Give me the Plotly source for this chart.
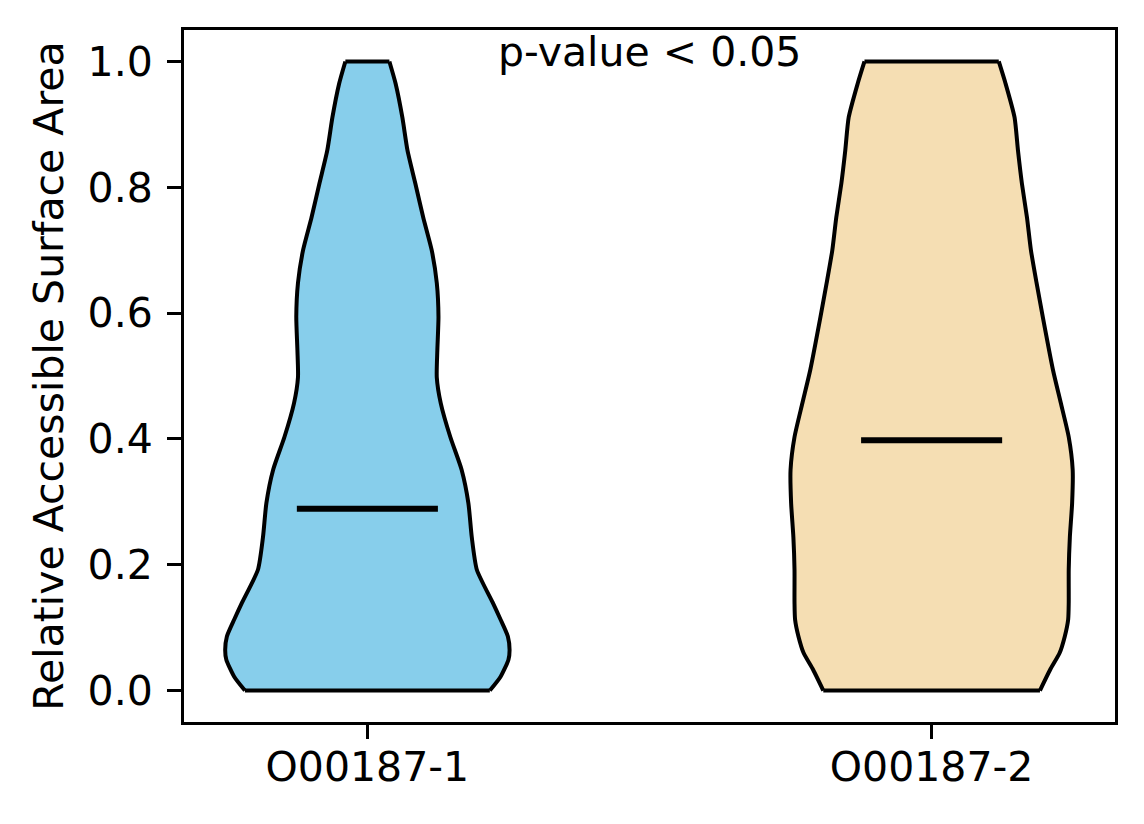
import plotly.graph_objects as go

# Violin profiles (value level -> half-width in x units)
groups = ["O00187-1", "O00187-2"]
colors = ["#87CEEB", "#F5DEB3"]

blue_levels = [0.0, 0.022, 0.049, 0.065, 0.086, 0.113, 0.140, 0.192, 0.244, 0.298, 0.351,
               0.403, 0.457, 0.498, 0.541, 0.594, 0.648, 0.700, 0.752, 0.806, 0.859,
               0.911, 0.965, 1.0]
blue_halfwidth = [0.217, 0.236, 0.250, 0.252, 0.249, 0.236, 0.222, 0.194, 0.185, 0.179, 0.167,
                  0.147, 0.130, 0.123, 0.124, 0.126, 0.123, 0.114, 0.099, 0.085, 0.071,
                  0.062, 0.050, 0.039]

orange_levels = [0.0, 0.033, 0.060, 0.086, 0.113, 0.140, 0.192, 0.244, 0.298, 0.351, 0.403,
                 0.457, 0.510, 0.594, 0.648, 0.700, 0.752, 0.806, 0.859, 0.911, 0.965, 1.0]
orange_halfwidth = [0.192, 0.210, 0.227, 0.236, 0.242, 0.243, 0.243, 0.245, 0.249, 0.250, 0.243,
                    0.229, 0.215, 0.197, 0.186, 0.176, 0.169, 0.160, 0.153, 0.147, 0.131, 0.119]

medians = [0.289, 0.398]
annotation_text = "p-value < 0.05"

profiles = [(blue_levels, blue_halfwidth), (orange_levels, orange_halfwidth)]
positions = list(range(1, len(groups) + 1))

FONT = "DejaVu Sans"
FS = 41

fig = go.Figure()

side_line = dict(color="black", width=4, shape="spline", smoothing=0.6)

# each violin = left edge + right edge filled between them (flat top/bottom)
for pos, (levels, hw), color in zip(positions, profiles, colors):
    fig.add_trace(go.Scatter(
        x=[pos - w for w in hw], y=levels, mode="lines", line=side_line,
        hoverinfo="skip", showlegend=False,
    ))
    fig.add_trace(go.Scatter(
        x=[pos + w for w in hw], y=levels, mode="lines", line=side_line,
        fill="tonextx", fillcolor=color,
        hoverinfo="skip", showlegend=False,
    ))

# flat top and bottom edges of the violins
ex, ey = [], []
for pos, (levels, hw) in zip(positions, profiles):
    ex += [pos - hw[0], pos + hw[0], None, pos - hw[-1], pos + hw[-1], None]
    ey += [levels[0], levels[0], None, levels[-1], levels[-1], None]
fig.add_trace(go.Scatter(x=ex, y=ey, mode="lines",
                         line=dict(color="black", width=4),
                         hoverinfo="skip", showlegend=False))

# median bars
mx, my = [], []
for pos, m in zip(positions, medians):
    mx += [pos - 0.125, pos + 0.125, None]
    my += [m, m, None]
fig.add_trace(go.Scatter(x=mx, y=my, mode="lines",
                         line=dict(color="black", width=6),
                         hoverinfo="skip", showlegend=False))

fig.add_annotation(x=1.5, y=1.015, text=annotation_text, showarrow=False,
                   xanchor="center", yanchor="middle",
                   font=dict(family=FONT, size=FS, color="black"))

axis_common = dict(
    showline=True, linecolor="black", linewidth=3, mirror=True,
    ticks="outside", ticklen=14, tickwidth=3, tickcolor="black",
    showgrid=False, zeroline=False,
    tickfont=dict(family=FONT, size=FS, color="black"),
)

fig.update_layout(
    width=1136, height=816,
    margin=dict(l=176, r=29, t=22, b=102),
    plot_bgcolor="white", paper_bgcolor="white",
    font=dict(family=FONT, size=FS, color="black"),
    xaxis=dict(range=[0.675, 2.325], tickvals=positions, ticktext=groups,
               ticklabelstandoff=-7, **axis_common),
    yaxis=dict(range=[-0.05, 1.05], tickvals=[0, 0.2, 0.4, 0.6, 0.8, 1.0],
               tickformat=".1f", ticklabelstandoff=6,
               title=dict(text="Relative Accessible Surface Area", standoff=12,
                          font=dict(family=FONT, size=FS, color="black")),
               **axis_common),
)

fig.write_html("out.html")
